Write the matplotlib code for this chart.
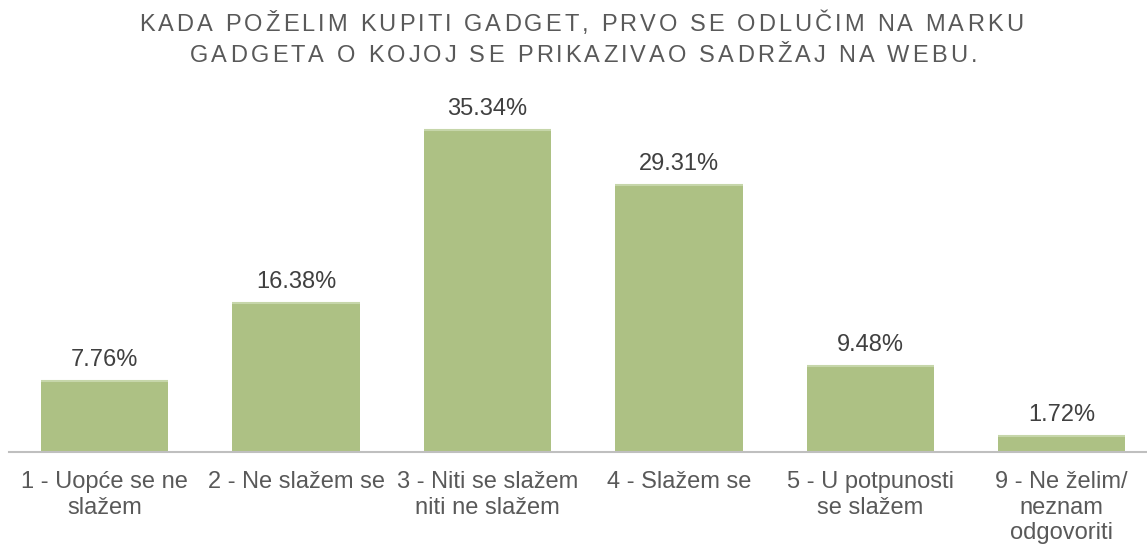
import numpy as np
import matplotlib.pyplot as plt
from matplotlib.font_manager import FontProperties

plt.rcParams['font.family'] = ['Liberation Sans', 'DejaVu Sans']

categories = ['1 - Uopće se ne\nslažem', '2 - Ne slažem se', '3 - Niti se slažem\nniti ne slažem',
              '4 - Slažem se', '5 - U potpunosti\nse slažem', '9 - Ne želim/\nneznam\nodgovoriti']
values = [7.76, 16.38, 35.34, 29.31, 9.48, 1.72]
title_lines = ['KADA POŽELIM KUPITI GADGET, PRVO SE ODLUČIM NA MARKU',
               'GADGETA O KOJOJ SE PRIKAZIVAO SADRŽAJ NA WEBU.']

W, H = 1147, 548
fig = plt.figure(figsize=(W / 100, H / 100), dpi=100)
# axes: left edge at x=9, baseline at y=452, 191.4 px per category
ax = fig.add_axes([9 / W, (H - 452) / H, 6 * 191.4 / W, 346 / H])

x = np.arange(len(values))
bw = 0.665
ax.bar(x, values, width=bw, color='#ADC184', edgecolor='none', zorder=2)
ax.hlines(values, x - bw / 2, x + bw / 2, color='#C6D6AA', linewidth=1.5, zorder=3)
ax.set_xlim(-0.5, len(values) - 0.5)
ax.set_ylim(0, 38)

for xi, v in zip(x, values):
    ax.annotate(f'{v:.2f}%', (xi, v), xytext=(0, 15), textcoords='offset pixels',
                ha='center', va='baseline', fontsize=17, color='#404040')

ax.set_xticks(x)
ax.set_xticklabels(categories, fontsize=17, color='#595959', linespacing=1.2)
ax.tick_params(axis='x', length=0, pad=14)
ax.set_yticks([])
for s in ['top', 'right', 'left']:
    ax.spines[s].set_visible(False)
ax.spines['bottom'].set_color('#BFBFBF')
ax.spines['bottom'].set_linewidth(1.5)

# title with letter spacing, drawn char by char to fit the measured widths
prop = FontProperties(family=['Liberation Sans', 'DejaVu Sans'], size=17)
renderer = fig.canvas.get_renderer()
spans = [(139, 1023), (190, 977)]   # left/right pixel extents of each line
baselines = [31, 62]

def char_width(ch):
    if ch == ' ':
        w1, _, _ = renderer.get_text_width_height_descent('a a', prop, ismath=False)
        w2, _, _ = renderer.get_text_width_height_descent('aa', prop, ismath=False)
        return w1 - w2
    w, _, _ = renderer.get_text_width_height_descent(ch, prop, ismath=False)
    return w

for line, (x0, x1), by in zip(title_lines, spans, baselines):
    widths = [char_width(ch) for ch in line]
    tracking = (x1 - x0 - sum(widths)) / (len(line) - 1)
    px = x0
    for ch, w in zip(line, widths):
        fig.text(px / W, 1 - by / H, ch, ha='left', va='baseline', fontproperties=prop,
                 color='#595959')
        px += w + tracking

fig.savefig('out.png', dpi=100)
